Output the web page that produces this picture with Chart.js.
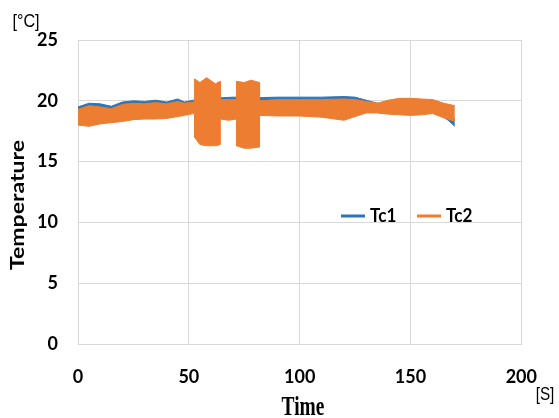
<!DOCTYPE html>
<html>
<head>
<meta charset="utf-8">
<script src="https://cdn.jsdelivr.net/npm/chart.js@4"></script>
<style>
  body { margin: 0; background: #fff; }
  #wrap { width: 559px; height: 418px; position: relative; }
</style>
</head>
<body>
<div id="wrap"><canvas id="myChart"></canvas></div>
<script>
// band envelopes (seconds, deg C)
const tc1Time  = [0, 5, 10, 15, 20, 25, 30, 35, 40, 45, 48, 52, 60, 70, 80, 90, 100, 110, 120, 125, 130, 135, 140, 150, 160, 163, 167, 170];
const tc1Upper = [19.5, 19.8, 19.75, 19.55, 19.9, 20.0, 19.95, 20.05, 19.9, 20.15, 19.9, 20.05, 20.2, 20.3, 20.25, 20.3, 20.3, 20.3, 20.35, 20.3, 20.05, 19.8, 19.85, 19.85, 19.8, 19.5, 19.0, 18.5];
const tc1Lower = [18.8, 19.0, 19.0, 18.9, 19.1, 19.2, 19.2, 19.3, 19.2, 19.3, 19.2, 19.3, 19.4, 19.4, 19.4, 19.5, 19.5, 19.5, 19.4, 19.4, 19.3, 19.2, 19.2, 19.2, 19.1, 18.9, 18.4, 17.9];

const tc2Time  = [0, 5, 10, 15, 20, 25, 30, 35, 40, 45, 48, 52, 52.6, 52.6, 55, 58, 62, 64.2, 64.2, 68, 71.5, 71.5, 75, 78, 81.9, 81.9, 90, 100, 110, 120, 125, 130, 135, 140, 145, 150, 155, 160, 165, 170];
const tc2Upper = [19.3, 19.6, 19.5, 19.35, 19.7, 19.8, 19.75, 19.85, 19.75, 19.95, 19.8, 19.9, 19.95, 21.8, 21.5, 21.9, 21.4, 21.6, 20.1, 20.1, 20.1, 21.6, 21.5, 21.7, 21.5, 20.0, 20.1, 20.1, 20.1, 20.15, 20.1, 19.95, 19.8, 20.05, 20.2, 20.2, 20.15, 20.1, 19.8, 19.6];
const tc2Lower = [18.0, 17.9, 18.1, 18.2, 18.3, 18.45, 18.5, 18.5, 18.55, 18.7, 18.8, 18.95, 18.95, 17.0, 16.4, 16.3, 16.3, 16.4, 18.5, 18.4, 18.5, 16.3, 16.1, 16.1, 16.2, 18.8, 18.75, 18.75, 18.65, 18.4, 18.7, 19.0, 19.0, 18.9, 18.85, 18.8, 18.85, 18.95, 18.6, 18.3];

const seriesNames = ["Tc1", "Tc2"];
const BLUE = "#2e75b6";
const ORANGE = "#ed7d31";

const toPoints = (xs, ys) => xs.map((x, i) => ({x: x, y: ys[i]}));

const tickFont = {family: 'Lato, sans-serif', size: 18, weight: 'bold'};

// draw text, optionally squeezed horizontally like the source image
const drawText = (ctx, text, x, y, font, sx, rot, align) => {
  ctx.save();
  ctx.translate(x, y);
  if (rot) ctx.rotate(rot);
  if (rot) ctx.scale(1, sx); else ctx.scale(sx, 1);
  ctx.font = font;
  ctx.fillStyle = "#000";
  ctx.textAlign = align || "center";
  ctx.textBaseline = "middle";
  ctx.fillText(text, 0, 0);
  ctx.restore();
};

const extraText = {
  id: 'extraText',
  afterDraw(chart) {
    const ctx = chart.ctx;
    drawText(ctx, "[°C]", 26, 22, '19px "Liberation Sans", sans-serif', 0.85, 0);
    drawText(ctx, "[S]", 545, 395, '18px "Liberation Sans", sans-serif', 0.85, 0);
    drawText(ctx, "Time", 303, 408, 'bold 27px "Liberation Serif", serif', 0.72, 0);
    drawText(ctx, "Temperature", 18, 205, 'bold 23px Lato, sans-serif', 0.8, -Math.PI / 2);

    // legend inside the plot
    const colors = [BLUE, ORANGE];
    const xs = [341, 417];
    const y = 216;
    for (const i in seriesNames) {
      ctx.save();
      ctx.strokeStyle = colors[i];
      ctx.lineWidth = 3;
      ctx.beginPath();
      ctx.moveTo(xs[i], y);
      ctx.lineTo(xs[i] + 24, y);
      ctx.stroke();
      ctx.restore();
      drawText(ctx, seriesNames[i], xs[i] + 29, y, 'bold 19px Lato, sans-serif', 0.9, 0, "left");
    }
  }
};

const gridColor = "#d9d9d9";

const chart = new Chart("myChart", {
  type: "line",
  data: {
    datasets: [
      {label: seriesNames[1], data: toPoints(tc2Time, tc2Upper), borderColor: ORANGE, backgroundColor: ORANGE, fill: false},
      {label: seriesNames[1] + " low", data: toPoints(tc2Time, tc2Lower), borderColor: ORANGE, backgroundColor: ORANGE, fill: '-1'},
      {label: seriesNames[0], data: toPoints(tc1Time, tc1Upper), borderColor: BLUE, backgroundColor: BLUE, fill: false},
      {label: seriesNames[0] + " low", data: toPoints(tc1Time, tc1Lower), borderColor: BLUE, backgroundColor: BLUE, fill: '-1'}
    ]
  },
  options: {
    responsive: true,
    maintainAspectRatio: false,
    animation: false,
    layout: {padding: {top: 40, right: 30, left: 0, bottom: 0}},
    elements: {point: {radius: 0}, line: {borderWidth: 1, tension: 0}},
    plugins: {legend: {display: false}, tooltip: {enabled: false}},
    scales: {
      x: {
        type: 'linear',
        min: 0,
        max: 200,
        ticks: {stepSize: 50, padding: 22, color: "#000", font: tickFont, maxRotation: 0},
        grid: {color: gridColor, drawTicks: false, tickLength: 0},
        border: {color: gridColor},
        afterFit: s => { s.height = 74; }
      },
      y: {
        min: 0,
        max: 25,
        ticks: {stepSize: 5, padding: 20, color: "#000", font: tickFont},
        grid: {color: gridColor, drawTicks: false, tickLength: 0},
        border: {color: gridColor},
        afterFit: s => { s.width = 78; }
      }
    }
  },
  plugins: [extraText]
});
</script>
</body>
</html>
